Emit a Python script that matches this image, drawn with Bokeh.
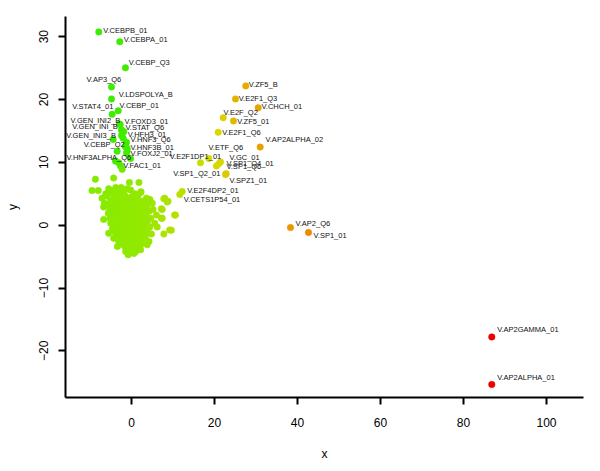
import colorsys
import numpy as np
from bokeh.plotting import figure
from bokeh.models import ColumnDataSource, FixedTicker, Range1d
from bokeh.embed import file_html
from bokeh.resources import INLINE
from bokeh.core.properties import value

# ---------------- data ----------------
label_names = [
    "V.CEBPB_01", "V.CEBPA_01", "V.CEBP_Q3", "V.AP3_Q6", "V.LDSPOLYA_B",
    "V.STAT4_01", "V.CEBP_01", "V.GEN_INI2_B", "V.FOXD3_01", "V.GEN_INI_B",
    "V.STAT_Q6", "V.GEN_INI3_B", "V.HFH3_01", "V.HNF3_Q6", "V.CEBP_Q2",
    "V.HNF3B_01", "V.FOXJ2_01", "V.HNF3ALPHA_Q6", "V.FAC1_01", "V.E2F1DP1_01",
    "V.ETF_Q6", "V.GC_01", "V.SP1_Q4_01", "V.SP1_Q6", "V.SP1_Q2_01",
    "V.SPZ1_01", "V.E2F4DP2_01", "V.CETS1P54_01", "V.ZF5_B", "V.E2F1_Q3",
    "V.CHCH_01", "V.E2F_Q2", "V.ZF5_01", "V.E2F1_Q6", "V.AP2ALPHA_02",
    "V.AP2_Q6", "V.SP1_01", "V.AP2GAMMA_01", "V.AP2ALPHA_01",
]
label_x = [
    -7.88, -2.82, -1.45, -4.82, -4.82,
    -4.65, -3.20, -2.89, -2.72, -2.41,
    -2.29, -2.41, -1.86, -1.20, -1.45,
    -1.04, -1.20, -0.24, -3.06, 16.63,
    18.63, 21.45, 21.04, 20.48, 22.82,
    22.65, 12.22, 11.64, 27.54, 25.06,
    30.53, 22.10, 24.58, 20.89, 31.01,
    38.31, 42.65, 86.82, 86.82,
]
label_y = [
    30.75, 29.19, 25.03, 22.00, 20.08,
    17.63, 18.20, 16.09, 16.02, 15.13,
    15.08, 14.25, 14.88, 13.20, 12.53,
    12.19, 11.48, 10.59, 9.92, 9.92,
    10.59, 10.03, 9.77, 9.41, 8.20,
    8.05, 5.34, 4.88, 22.16, 20.08,
    18.67, 17.11, 16.59, 14.77, 12.42,
    -0.39, -1.17, -17.78, -25.34,
]

# unlabeled points of the upper-left chain
chain_x = [-4.41, -3.45, -1.04, -3.86, -2.65, -2.24, -2.00, -1.40]
chain_y = [13.63, 11.75, 11.84, 10.19, 9.41, 8.88, 13.83, 12.50]

# unlabeled points of the main cloud
blob_x = [
    -8.7, -4.3, -0.5, 1.8, -2.5, -3.8, -5.5, -1.0, -9.5, -8.0, -4.6, -0.2, -3.0,
    2.3, -1.8, -5.0, -6.2, -3.5, -2.2, 0.8, -5.8, -4.2, -1.5, 0.2, 1.5,
    8.0, -7.1, -3.0, -0.6, 3.6, 4.4, -2.0, 1.0, 8.8, -5.0, -3.8, -1.2, 0.5, 2.5,
    -6.5, -4.4, -2.6, -0.2, 1.2, 3.0, 5.0, -5.5, -3.4, -1.8, 0.0, 1.8, 3.8,
    -6.7, -4.6, -2.8, -1.0, 0.8, 2.4, 7.4, -5.2, -3.8, -2.2, -0.4, 1.4, 3.2, 5.2,
    -4.4, -3.0, -1.4, 0.2, 2.0, 4.2, -5.6, -3.6, -2.0, -0.6, 1.0, 2.6,
    10.4, -4.8, -2.8, -1.2, 0.4, 1.8, 3.5, 6.0, -4.0, -2.2, -0.8, 0.8, 2.4,
    7.4, -5.2, -3.2, -1.6, 0.0, 1.6, 3.0, 4.6, -6.7, -4.4, -2.6, -0.4, 1.2,
    -3.8, -2.0, -0.2, 0.6, 2.0, 3.8, -5.0, -3.0, -1.4, 0.2, 1.4, 2.8, 5.6,
    -4.2, -2.4, -0.8, 0.8, 2.2, 6.2, -3.6, -1.8, -0.2, 1.4, 3.2, 4.4,
    -4.6, -2.8, -1.2, 0.4, 2.0, 9.6, -3.4, -2.0, -0.4, 1.0, 2.6, 3.8,
    -4.0, -2.4, -0.8, 0.6, 1.8, -5.5, -3.0, -1.4, 0.0, 1.2, 2.8, 7.8, 4.8,
    -3.6, -2.0, -0.6, 0.8, 2.2, 3.4, -4.3, -2.8, -1.2, 0.2, 1.6, 2.8,
    -3.2, -1.8, -0.4, 1.0, 2.4, 4.2, -2.4, 0.4, -2.8, -1.2, 0.0, 1.4, 2.6,
    3.8, -2.0, -0.6, 0.8, -3.4, -1.6, -0.2, 1.2, 2.0, -1.0, 0.4, 1.6,
    2.2, -0.4, -1.4, 0.0, 1.0, -0.6, 0.6, -0.8,
    7.8, 8.6, 7.2, 10.6, 7.2, 9.2, 4.4, 2.2,
]
blob_y = [
    7.3, 7.5, 6.8, 6.8, 6.0, 6.0, 5.8, 5.8, 5.5, 5.5, 5.5, 5.6, 5.6,
    5.3, 5.3, 5.3, 5.0, 5.0, 5.0, 5.0, 4.6, 4.6, 4.6, 4.6, 4.6,
    4.3, 4.3, 4.3, 4.3, 4.3, 4.1, 4.1, 4.1, 3.8, 3.8, 3.8, 3.8, 3.8, 3.8,
    3.5, 3.5, 3.5, 3.5, 3.5, 3.5, 3.5, 3.2, 3.2, 3.2, 3.2, 3.2, 3.2,
    2.9, 2.9, 2.9, 2.9, 2.9, 2.9, 2.5, 2.5, 2.5, 2.5, 2.5, 2.5, 2.5, 2.5,
    2.2, 2.2, 2.2, 2.2, 2.2, 2.2, 1.9, 1.9, 1.9, 1.9, 1.9, 1.9,
    1.6, 1.6, 1.6, 1.6, 1.6, 1.6, 1.6, 1.6, 1.3, 1.3, 1.3, 1.3, 1.3,
    1.1, 1.1, 1.1, 1.1, 1.1, 1.1, 1.1, 1.1, 0.9, 0.9, 0.9, 0.9, 0.9,
    0.6, 0.6, 0.6, 0.6, 0.6, 0.6, 0.3, 0.3, 0.3, 0.3, 0.3, 0.3, 0.3,
    0.0, 0.0, 0.0, 0.0, 0.0, -0.3, -0.3, -0.3, -0.3, -0.3, -0.3, -0.3,
    -0.6, -0.6, -0.6, -0.6, -0.6, -0.8, -0.8, -0.8, -0.8, -0.8, -0.8, -0.8,
    -1.1, -1.1, -1.1, -1.1, -1.1, -1.3, -1.3, -1.3, -1.3, -1.3, -1.3, -1.4, -1.4,
    -1.7, -1.7, -1.7, -1.7, -1.7, -1.7, -2.1, -2.1, -2.1, -2.1, -2.1, -2.1,
    -2.4, -2.4, -2.4, -2.4, -2.4, -2.6, -2.6, -2.6, -2.9, -2.9, -2.9, -2.9, -2.9,
    -3.1, -3.1, -3.1, -3.1, -3.4, -3.4, -3.4, -3.4, -3.4, -3.7, -3.7, -3.7,
    -3.9, -3.9, -4.2, -4.2, -4.2, -4.5, -4.5, -4.7,
    4.2, 3.7, 2.6, 1.6, 1.1, -0.75, 4.0, 5.2,
]

x_ticks = [0, 20, 40, 60, 80, 100]
y_ticks = [-20, -10, 0, 10, 20, 30]

# ---------------- label placement (screen px: left edge dx, middle dy; +dy = down) ----------------
label_dx = [
    4.4, 4.0, 3.3, -25.0, 7.3,
    -40.0, 1.3, -49.0, 4.3, -49.3,
    3.5, -55.3, 4.0, 4.0, -41.7,
    3.3, 4.0, -64.0, 4.4, -30.7,
    -0.3, 9.0, 7.7, 10.0, -53.0,
    4.0, 5.0, 4.0, 3.0, 3.3,
    3.3, 0.3, 3.7, 4.0, 5.3,
    5.0, 5.0, 5.4, 5.4,
]
label_dy = [
    -1.7, -2.4, -5.0, -7.7, -4.3,
    -7.4, -5.3, -3.8, -3.3, -3.4,
    -3.0, -0.6, 2.7, -2.3, -2.3,
    -1.3, 0.0, -0.7, 2.3, -6.0,
    -10.7, -5.0, -0.3, 0.7, -0.3,
    6.0, -1.0, 5.4, -1.7, -0.7,
    -1.3, -5.0, 0.4, 0.0, -7.3,
    -4.0, 3.0, -7.3, -7.4,
]


def point_color(x, y):
    hue = np.interp(x, [-10, 3, 12, 16.6, 21, 25, 27.5, 31, 38, 87],
                    [86, 82, 70, 66, 60, 48, 45, 42, 40, 0])
    if x < 10:
        hue += 20 * min(max((y - 7.8) / 2.5, 0.0), 1.0)
    v = np.interp(hue, [0, 40, 60, 84, 106], [0.94, 0.91, 0.85, 0.92, 0.93])
    r, g, b = colorsys.hsv_to_rgb(hue / 360.0, 1.0, v)
    return "#%02x%02x%02x" % (int(r * 255), int(g * 255), int(b * 255))


all_x = blob_x + chain_x + label_x
all_y = blob_y + chain_y + label_y
pts = ColumnDataSource(dict(x=all_x, y=all_y,
                            c=[point_color(a, b) for a, b in zip(all_x, all_y)]))
labs = ColumnDataSource(dict(x=label_x, y=label_y, t=label_names,
                             dx=label_dx, dy=label_dy))

p = figure(width=592, height=463, output_backend="svg", toolbar_location=None,
           x_range=Range1d(-15.90, 108.92), y_range=Range1d(-27.42, 33.20),
           min_border_left=65, min_border_right=9, min_border_top=16,
           min_border_bottom=59)
p.outline_line_color = None
p.grid.visible = False
p.background_fill_color = "white"
p.border_fill_color = "white"

p.scatter("x", "y", source=pts, size=6.5, fill_color="c", line_color="c",
          line_width=0.5)
p.text("x", "y", text="t", source=labs, x_offset="dx", y_offset="dy",
       text_align="left", text_baseline="middle",
       text_font=value("Liberation Sans"), text_font_size="7.5px",
       text_color="#111111")

for ax in (p.xaxis[0], p.yaxis[0]):
    ax.axis_line_width = 2
    ax.axis_line_color = "black"
    ax.major_tick_line_width = 2
    ax.major_tick_line_color = "black"
    ax.major_tick_out = 7
    ax.major_tick_in = 0
    ax.minor_tick_line_color = None
    ax.major_label_text_font = "Liberation Sans"
    ax.major_label_text_font_size = "12px"
    ax.major_label_text_color = "black"
    ax.axis_label_text_font = "Liberation Sans"
    ax.axis_label_text_font_size = "12px"
    ax.axis_label_text_font_style = "normal"
    ax.axis_label_text_color = "black"

p.xaxis.ticker = FixedTicker(ticks=x_ticks)
p.yaxis.ticker = FixedTicker(ticks=y_ticks)
p.xaxis.axis_label = "x"
p.yaxis.axis_label = "y"
p.xaxis.major_label_standoff = 13
p.xaxis.axis_label_standoff = 17
p.yaxis.major_label_orientation = "vertical"
p.yaxis.major_label_standoff = 10
p.yaxis.axis_label_standoff = 17

open("out.html", "w").write(file_html(p, INLINE))
